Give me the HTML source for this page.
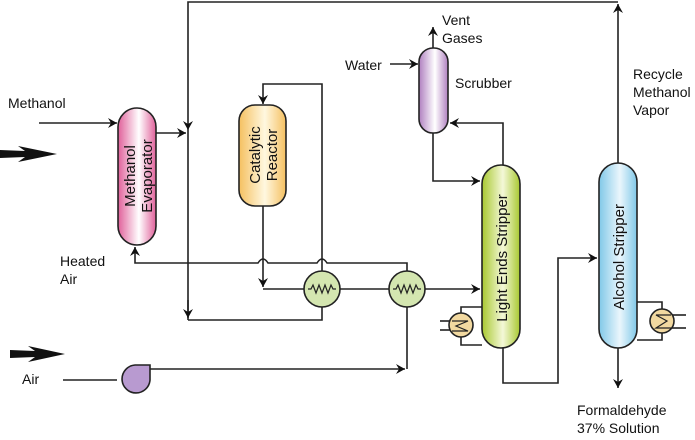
<!DOCTYPE html>
<html><head><meta charset="utf-8"><style>
html,body{margin:0;padding:0;background:#fff;}
text{font-family:"Liberation Sans",Arial,sans-serif;font-size:14px;fill:#111;}
.v{font-size:15px;}
</style></head><body>
<svg width="695" height="435" viewBox="0 0 695 435" xmlns="http://www.w3.org/2000/svg">
<defs>
<linearGradient id="gp" x1="0" x2="1"><stop offset="0" stop-color="#e0609a"/><stop offset="0.55" stop-color="#fff"/><stop offset="1" stop-color="#e0609a"/></linearGradient>
<linearGradient id="gy" x1="0" x2="1"><stop offset="0" stop-color="#f5c060"/><stop offset="0.55" stop-color="#fff8e0"/><stop offset="1" stop-color="#f5c060"/></linearGradient>
<linearGradient id="gv" x1="0" x2="1"><stop offset="0" stop-color="#b080c0"/><stop offset="0.55" stop-color="#fff"/><stop offset="1" stop-color="#b080c0"/></linearGradient>
<linearGradient id="gg" x1="0" x2="1"><stop offset="0" stop-color="#a8c830"/><stop offset="0.55" stop-color="#f4f8d8"/><stop offset="1" stop-color="#a8c830"/></linearGradient>
<linearGradient id="gb" x1="0" x2="1"><stop offset="0" stop-color="#80c8e8"/><stop offset="0.55" stop-color="#eaf6fc"/><stop offset="1" stop-color="#80c8e8"/></linearGradient>
<marker id="a" markerWidth="10" markerHeight="10" refX="9" refY="5" orient="auto" markerUnits="userSpaceOnUse"><path d="M0,0 L9,5 L0,10 L3,5 Z" fill="#111"/></marker>
</defs>
<g fill="none" stroke="#222" stroke-width="1.6">
<line x1="39" y1="123" x2="117" y2="123" marker-end="url(#a)"/>
<line x1="156" y1="133" x2="186" y2="133" marker-end="url(#a)"/>
<polyline points="618,2 188,2 188,130" marker-end="url(#a)"/>
<polyline points="188,130 188,320" />
<line x1="188" y1="300" x2="188" y2="318" marker-end="url(#a)"/>
<polyline points="322,307 322,320 188,320"/>
<path d="M322,271 L322,84 L263,84 L263,104" marker-end="url(#a)"/>
<polyline points="263,206 263,287" marker-end="url(#a)"/>
<polyline points="263,289 304,289"/>
<line x1="340" y1="289" x2="389" y2="289"/>
<line x1="425" y1="289" x2="480" y2="289" marker-end="url(#a)"/>
<path d="M407,271 L407,263 L327,263 Q322,255 317,263 L268,263 Q263,255 258,263 L135,263 L135,247" marker-end="url(#a)"/>
<line x1="63" y1="380" x2="117" y2="380"/>
<polyline points="150,369 405,369" marker-end="url(#a)"/>
<line x1="407" y1="307" x2="407" y2="369"/>
<line x1="433" y1="48" x2="433" y2="27" marker-end="url(#a)"/>
<line x1="390" y1="64" x2="418" y2="64" marker-end="url(#a)"/>
<polyline points="433,133 433,181 480,181" marker-end="url(#a)"/>
<polyline points="503,165 503,123 450,123" marker-end="url(#a)"/>
<polyline points="503,348 503,383 558,383 558,258 597,258" marker-end="url(#a)"/>
<line x1="618" y1="163" x2="618" y2="4" marker-end="url(#a)"/>
<line x1="618" y1="348" x2="618" y2="388" marker-end="url(#a)"/>
<polyline points="461,313 461,307 482,307"/>
<polyline points="461,337 461,345 482,345"/>
<line x1="440" y1="321" x2="452" y2="321"/><line x1="440" y1="330" x2="452" y2="330"/>
<polyline points="662,309 662,302 637,302"/>
<polyline points="662,333 662,340 637,340"/>
<line x1="671" y1="315" x2="686" y2="315"/><line x1="671" y1="328" x2="686" y2="328"/>
</g>
<g stroke="#222" stroke-width="1.6">
<rect x="118" y="108" width="38" height="137" rx="19" fill="url(#gp)"/>
<rect x="239" y="105" width="47" height="101" rx="16" fill="url(#gy)"/>
<rect x="419" y="48" width="29" height="85" rx="14" fill="url(#gv)"/>
<rect x="482" y="165" width="38" height="183" rx="19" fill="url(#gg)"/>
<rect x="599" y="163" width="38" height="185" rx="19" fill="url(#gb)"/>
<circle cx="322" cy="289" r="18" fill="#d4e6b0"/>
<circle cx="407" cy="289" r="18" fill="#d4e6b0"/>
<circle cx="461" cy="325" r="12" fill="#f2d9a0"/>
<circle cx="662" cy="321" r="12" fill="#f2d9a0"/>
<path d="M150,365 L135,365 A14,14 0 1 0 150,380 Z" fill="#b89ad0"/>
</g>
<g fill="none" stroke="#222" stroke-width="1.2">
<polyline points="308,289 311,289 313,285 316,293 319,285 322,293 325,285 328,293 331,285 333,289 336,289"/>
<polyline points="393,289 396,289 398,285 401,293 404,285 407,293 410,285 413,293 416,285 418,289 421,289"/>
<polyline points="452,321 468,321 456,326 468,331 452,331"/>
<polyline points="671,315 656,315 667,321 656,328 671,328"/>
</g>
<path d="M0,150 L25,151 L18,146 L57,154 L18,162 L25,157 L0,158 Z" fill="#111"/>
<path d="M10,350 L35,351 L28,346 L65,354 L28,362 L35,357 L10,358 Z" fill="#111"/>
<text x="8" y="108">Methanol</text>
<text x="60" y="266">Heated</text>
<text x="60" y="284">Air</text>
<text x="22" y="384">Air</text>
<text x="345" y="70">Water</text>
<text x="442" y="25">Vent</text>
<text x="442" y="43">Gases</text>
<text x="455" y="88">Scrubber</text>
<text x="633" y="79">Recycle</text>
<text x="633" y="97">Methanol</text>
<text x="633" y="115">Vapor</text>
<text x="577" y="415">Formaldehyde</text>
<text x="577" y="433">37% Solution</text>
<text class="v" transform="translate(135,176) rotate(-90)" text-anchor="middle">Methanol</text>
<text class="v" transform="translate(152,176) rotate(-90)" text-anchor="middle">Evaporator</text>
<text class="v" transform="translate(260,155) rotate(-90)" text-anchor="middle">Catalytic</text>
<text class="v" transform="translate(277,155) rotate(-90)" text-anchor="middle">Reactor</text>
<text class="v" transform="translate(507,258) rotate(-90)" text-anchor="middle">Light Ends Stripper</text>
<text class="v" transform="translate(624,257) rotate(-90)" text-anchor="middle">Alcohol Stripper</text>
</svg>
</body></html>
